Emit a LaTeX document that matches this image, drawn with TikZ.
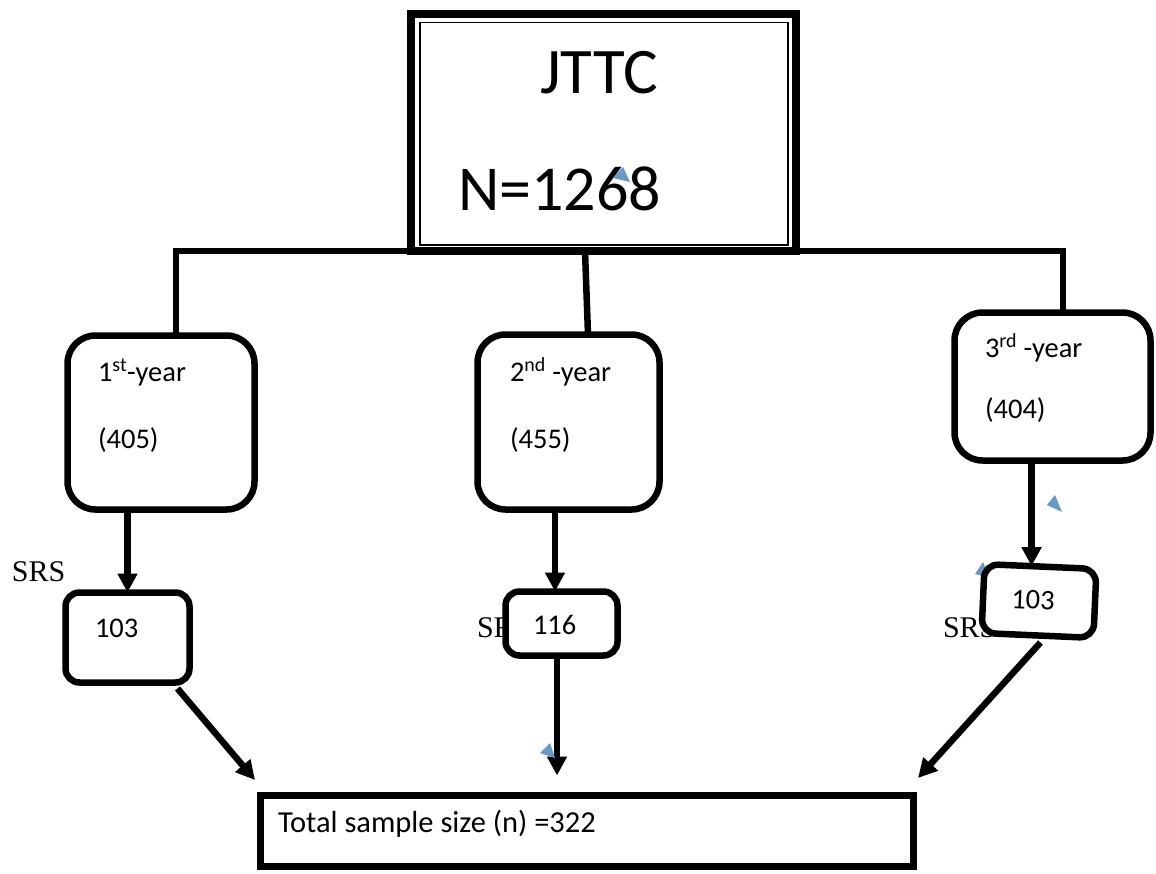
\documentclass[tikz,border=0pt]{standalone}
\usepackage{fontspec}
\setmainfont{Carlito}
\newfontfamily\srsfont{Liberation Serif}
\usetikzlibrary{arrows.meta,calc}
\definecolor{triblue}{RGB}{104,152,200}
\begin{document}
\begin{tikzpicture}[x=1pt,y=-1pt,
  every node/.style={inner sep=0pt,outer sep=0pt},
  bigbox/.style={draw,line width=6.5pt,rounded corners=28pt,fill=white},
  smallbox/.style={draw,line width=6.5pt,rounded corners=14pt,fill=white},
  conn/.style={line width=6.5pt},
  arr/.style={line width=6.5pt,-{Triangle[length=19pt,width=19pt]}},
  txt/.style={anchor=base west,font=\fontsize{28.5}{33}\selectfont},
  srs/.style={anchor=base west,font=\srsfont\fontsize{30}{34}\selectfont},
  bluetri/.style={fill=triblue}]
\useasboundingbox (0,0) rectangle (1156,873);

% top box
\node[draw,line width=8.5pt,minimum width=385pt,minimum height=237pt] (top) at (603.5,132.5) {};
\draw[line width=1.8pt] ($(top.north west)+(9,8.5)$) rectangle ($(top.south east)+(-8,-6)$);
\node[anchor=base west,font=\fontsize{65}{70}\selectfont] (jttc) at (540,93) {JTTC};
\node[anchor=base west,font=\fontsize{64}{70}\selectfont] (bign) at (458,210) {N=1268};
\fill[bluetri] (613,178) -- (623,167) -- (630,182) -- cycle;

% year boxes
\node[bigbox,minimum width=187pt,minimum height=174pt] (b1) at (161,422.5) {};
\node[bigbox,minimum width=182pt,minimum height=175pt] (b2) at (568.5,422) {};
\node[bigbox,minimum width=196pt,minimum height=148pt] (b3) at (1052.5,386.5) {};
\node[txt] (l1a) at (98,381) {1\textsuperscript{st}-year};
\node[txt] (l1b) at (98,448) {(405)};
\node[txt] (l2a) at (510,381) {2\textsuperscript{nd} -year};
\node[txt] (l2b) at (510,448) {(455)};
\node[txt] (l3a) at (985,357) {3\textsuperscript{rd} -year};
\node[txt] (l3b) at (985,418) {(404)};

% tree lines
\coordinate (c1) at ($(b1.north)+(15,0)$);
\coordinate (c3) at ($(b3.north)+(10.5,0)$);
\draw[conn] (c1) -- (c1 |- top.south) -- (c3 |- top.south) -- (c3);
\draw[conn] ($(top.south)+(-18.5,0)$) -- ($(b2.north)+(19.5,0)$);

% SRS labels (behind small boxes)
\node[srs] (srs1) at (12,581) {SRS};
\node[srs] (srs2) at (477,637) {SRS};
\node[srs] (srs3) at (943,637) {SRS};
\fill[bluetri] (975,574) -- (983,562) -- (990,578) -- cycle;

% small boxes
\node[smallbox,minimum width=124pt,minimum height=90pt] (s1) at (127.5,637.5) {};
\node[smallbox,minimum width=112pt,minimum height=64pt] (s2) at (561.5,623.5) {};
\node[smallbox,minimum width=112pt,minimum height=69pt,rotate=-2.5] (s3) at (1039,601) {};
\node[txt] (n1) at (95,637) {103};
\node[txt] (n2) at (533,634) {116};
\node[txt,rotate=-2.5] (n3) at (1011,608) {103};

% bottom box
\node[draw,line width=6.5pt,minimum width=653pt,minimum height=71pt] (f) at (587,831) {};
\node[anchor=base west,font=\fontsize{30.5}{34}\selectfont] (ft) at (278,832) {Total sample size (n) =322};

% arrows
\draw[arr] (s1.north |- b1.south) -- (s1.north);
\draw[arr] ($(s2.north |- b2.south)+(-6.5,0)$) -- ($(s2.north)+(-6.5,0)$);
\coordinate (s3top) at ($(s3.north west)!0.42!(s3.north east)$);
\draw[arr] (s3top |- b3.south) -- (s3top);
\draw[arr] ($(s1.south east)+(-12,6)$) -- ($(f.north west)+(-5.5,-15.5)$);
\draw[arr] ($(s2.south)+(-4.5,0)$) -- ($(s2.south |- f.north)+(-4.5,-20)$);
\draw[arr] ($(s3.south)+(3,7)$) -- ($(f.north east)+(4.5,-17.5)$);

\fill[bluetri] (1047,505) -- (1055,495) -- (1062,512) -- cycle;
\fill[bluetri] (540,753) -- (550,743) -- (555,758) -- cycle;
\end{tikzpicture}
\end{document}
